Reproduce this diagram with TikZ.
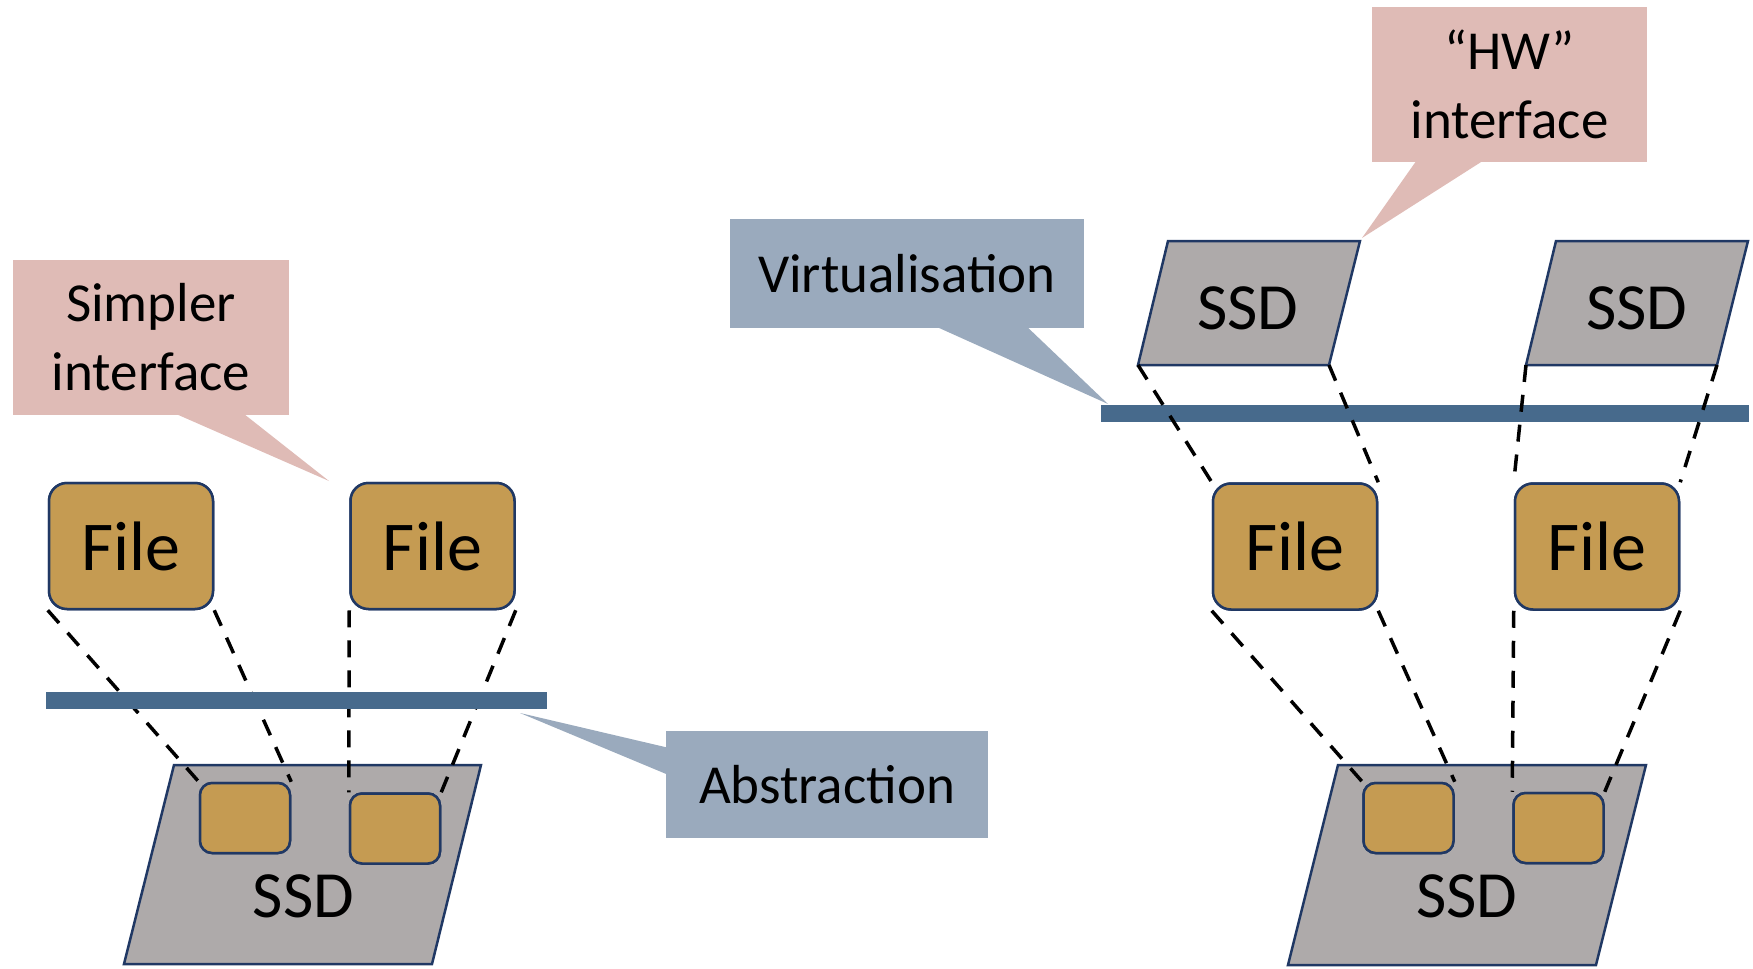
\documentclass[tikz,border=0pt]{standalone}
\usepackage{fontspec}
\setmainfont{Carlito}
\usetikzlibrary{calc}
\definecolor{filegold}{HTML}{C59B52}
\definecolor{ssdgrey}{HTML}{AEAAAA}
\definecolor{navy}{HTML}{203864}
\definecolor{barblue}{HTML}{476A8C}
\definecolor{calloutpink}{HTML}{DFBBB6}
\definecolor{calloutblue}{HTML}{9AAABD}
\begin{document}
\begin{tikzpicture}[x=0.5pt,y=-0.5pt,
  filebox/.style={draw=navy, line width=1.25pt, fill=filegold, rounded corners=9pt,
    minimum width=82pt, minimum height=63pt, inner sep=0pt, font=\fontsize{35}{42}\selectfont},
  chunk/.style={draw=navy, line width=1.25pt, fill=filegold, rounded corners=6pt,
    minimum width=45pt, minimum height=35pt, inner sep=0pt},
  ssdshape/.style={draw=navy, line width=1.25pt, fill=ssdgrey, line join=miter},
  ssdlabel/.style={font=\fontsize{33}{40}\selectfont, inner sep=0pt},
  layer/.style={fill=barblue},
  mapline/.style={draw=black, line width=1.75pt, dash pattern=on 8.5pt off 6.5pt},
  calloutA/.style={fill=calloutpink, inner sep=0pt, align=center, font=\fontsize{27.5}{34.5}\selectfont},
  calloutB/.style={fill=calloutblue, inner sep=0pt, align=center, font=\fontsize{27.5}{34.5}\selectfont},
]
\useasboundingbox (0,0) rectangle (1753,969);

% ---------- callouts ----------
\coordinate (tipA) at (329,481);
\coordinate (tipH) at (1362,238);
\coordinate (tipV) at (1108,404);
\coordinate (tipAb) at (520,713);

\node[calloutA, minimum width=138pt, minimum height=77.5pt] (cA) at (151,337) {Simpler\\interface};
\fill[calloutpink] ($(cA.south west)+(161,-2)$) -- (tipA) -- ($(cA.south west)+(230,-2)$) -- cycle;

\node[calloutA, minimum width=137.5pt, minimum height=77.5pt] (cH) at (1509.5,84.5) {“HW”\\interface};
\fill[calloutpink] ($(cH.south west)+(45,-2)$) -- (tipH) -- ($(cH.south west)+(112,-2)$) -- cycle;

\node[calloutB, minimum width=177pt, minimum height=54.5pt] (cV) at (907,273.5) {Virtualisation};
\fill[calloutblue] ($(cV.south west)+(206,-2)$) -- (tipV) -- ($(cV.south west)+(297,-2)$) -- cycle;

\node[calloutB, minimum width=161pt, minimum height=53.5pt] (cAb) at (827,784.5) {Abstraction};
\fill[calloutblue] ($(cAb.north west)+(2,17)$) -- (tipAb) -- ($(cAb.north west)+(2,44)$) -- cycle;

% ---------- left: files over an abstraction layer ----------
\draw[ssdshape] (174,765) -- (481,765) -- (432,964) -- (124,964) -- cycle;
\node[ssdlabel] (ssdL) at (303.5,896) {SSD};

\path (131,546) node[filebox] (f1) {File}
      (432.5,546) node[filebox] (f2) {File};
\path (245,818) node[chunk] (s1) {}
      (395,828.5) node[chunk] (s2) {};

\draw[mapline] (f1.south west) -- (s1.north west);
\draw[mapline] (f1.south east) -- (s1.north east);
\draw[mapline] (f2.south west) -- (s2.north west);
\draw[mapline] (f2.south east) -- (s2.north east);

\path (245,818) node[chunk] {}
      (395,828.5) node[chunk] {};
\path (131,546) node[filebox] {File}
      (432.5,546) node[filebox] {File};

\fill[layer] (46,692) rectangle (547,709);

% ---------- right: virtual drives over files on one drive ----------
\draw[ssdshape] (1338,765) -- (1646,765) -- (1596,965) -- (1288,965) -- cycle;
\node[ssdlabel] (ssdR) at (1467,896) {SSD};

\draw[ssdshape] (1168,241) -- (1360,241) -- (1329,365) -- (1138,365) -- cycle;
\node[ssdlabel] (vd1) at (1248,308.5) {SSD};
\coordinate (vd1bl) at (1138,365);
\coordinate (vd1br) at (1329,365);

\draw[ssdshape] (1556,241) -- (1748,241) -- (1717,365) -- (1526,365) -- cycle;
\node[ssdlabel] (vd2) at (1637,308.5) {SSD};
\coordinate (vd2bl) at (1526,365);
\coordinate (vd2br) at (1717,365);

\fill[layer] (1101,405) rectangle (1749,422);

\path (1295,546.5) node[filebox] (f3) {File}
      (1597,546.5) node[filebox] (f4) {File};
\path (1408.5,818) node[chunk] (s3) {}
      (1558.5,828) node[chunk] (s4) {};

\draw[mapline] (vd1bl) -- (f3.north west);
\draw[mapline] (vd1br) -- (f3.north east);
\draw[mapline] (vd2bl) -- (f4.north west);
\draw[mapline] (vd2br) -- (f4.north east);

\draw[mapline] (f3.south west) -- (s3.north west);
\draw[mapline] (f3.south east) -- (s3.north east);
\draw[mapline] (f4.south west) -- (s4.north west);
\draw[mapline] (f4.south east) -- (s4.north east);

\path (1408.5,818) node[chunk] {}
      (1558.5,828) node[chunk] {};
\path (1295,546.5) node[filebox] {File}
      (1597,546.5) node[filebox] {File};
\end{tikzpicture}
\end{document}
